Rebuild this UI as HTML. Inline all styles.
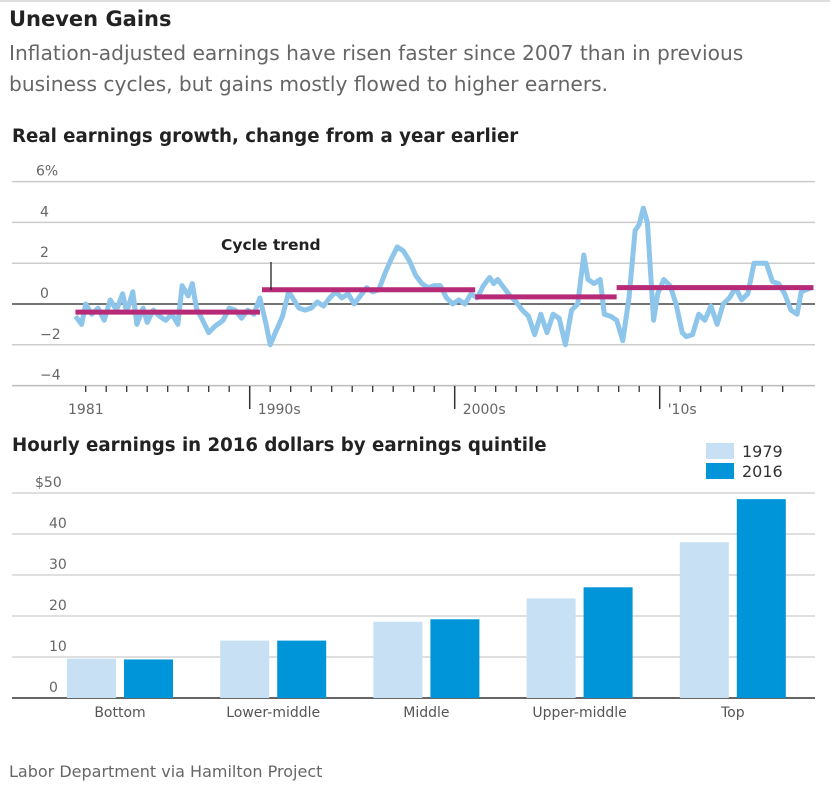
<!DOCTYPE html>
<html><head><meta charset="utf-8"><style>
body{margin:0;background:#fff;font-family:"DejaVu Sans","Liberation Sans",sans-serif;}
svg text{font-family:"DejaVu Sans","Liberation Sans",sans-serif;}
</style></head><body>
<svg width="830" height="787">
<line x1="0" y1="1" x2="830" y2="1" stroke="#bbb"/>
<text x="9" y="26" font-size="21" font-weight="bold" fill="#222">Uneven Gains</text>
<text x="9" y="60" font-size="20.2" fill="#666">Inflation-adjusted earnings have risen faster since 2007 than in previous</text>
<text x="9" y="91" font-size="20.2" fill="#666">business cycles, but gains mostly flowed to higher earners.</text>
<text x="12" y="142" font-size="18.2" font-weight="bold" fill="#222">Real earnings growth, change from a year earlier</text>
<g id="line"></g>
<text x="12" y="451" font-size="18.2" font-weight="bold" fill="#222">Hourly earnings in 2016 dollars by earnings quintile</text>
<g id="bars"></g>
<text x="9" y="777" font-size="16" fill="#666">Labor Department via Hamilton Project</text>
</svg>
<script>
const years=[1981.5,1981.8,1982.0,1982.3,1982.6,1982.9,1983.2,1983.5,1983.8,1984.0,1984.3,1984.5,1984.8,1985.0,1985.3,1985.6,1985.9,1986.2,1986.5,1986.7,1987.0,1987.2,1987.4,1987.7,1988.0,1988.3,1988.7,1989.0,1989.3,1989.6,1989.9,1990.2,1990.5,1990.8,1991.0,1991.3,1991.6,1991.9,1992.1,1992.4,1992.7,1993.0,1993.3,1993.6,1993.9,1994.2,1994.5,1994.8,1995.1,1995.4,1995.7,1996.0,1996.3,1996.6,1996.9,1997.2,1997.5,1997.8,1998.1,1998.4,1998.7,1999.0,1999.3,1999.6,1999.9,2000.2,2000.5,2000.8,2001.1,2001.4,2001.7,2001.9,2002.1,2002.4,2002.7,2003.0,2003.3,2003.6,2003.9,2004.2,2004.5,2004.8,2005.1,2005.4,2005.7,2006.0,2006.3,2006.5,2006.8,2007.1,2007.3,2007.6,2007.9,2008.2,2008.5,2008.8,2009.0,2009.2,2009.4,2009.7,2009.9,2010.2,2010.5,2010.8,2011.1,2011.3,2011.6,2011.9,2012.2,2012.5,2012.8,2013.1,2013.4,2013.7,2014.0,2014.3,2014.6,2014.9,2015.2,2015.5,2015.8,2016.1,2016.4,2016.7,2016.9,2017.4];
const growth=[-0.6,-1.0,0.0,-0.5,-0.2,-0.8,0.2,-0.3,0.5,-0.4,0.6,-1.0,-0.2,-0.9,-0.3,-0.6,-0.8,-0.5,-1.0,0.9,0.4,1.0,-0.2,-0.8,-1.4,-1.1,-0.8,-0.2,-0.3,-0.7,-0.3,-0.5,0.3,-1.0,-2.0,-1.3,-0.6,0.6,0.3,-0.2,-0.3,-0.2,0.1,-0.1,0.3,0.6,0.3,0.5,0.0,0.4,0.8,0.6,0.7,1.5,2.2,2.8,2.6,2.1,1.4,1.0,0.8,0.9,0.9,0.3,0.0,0.2,0.0,0.5,0.3,0.9,1.3,1.0,1.2,0.8,0.4,0.1,-0.3,-0.6,-1.5,-0.5,-1.4,-0.5,-0.7,-2.0,-0.3,0.0,2.4,1.2,1.0,1.2,-0.5,-0.6,-0.8,-1.8,0.3,3.6,3.9,4.7,4.0,-0.8,0.5,1.2,0.9,0.0,-1.4,-1.6,-1.5,-0.5,-0.8,-0.1,-1.0,0.0,0.3,0.8,0.2,0.5,2.0,2.0,2.0,1.1,1.0,0.5,-0.3,-0.5,0.6,0.8];
const trendStart=[1981.5,1990.6,2001.0,2007.9];
const trendEnd=[1990.5,2001.0,2007.9,2017.5];
const trendVal=[-0.4,0.7,0.35,0.8];
const yTicks=[6,4,2,0,-2,-4];
const yTickLabels=["6%","4","2","0","\u22122","\u22124"];
const tickYears=[1982,1983,1984,1985,1986,1987,1988,1989,1990,1991,1992,1993,1994,1995,1996,1997,1998,1999,2000,2001,2002,2003,2004,2005,2006,2007,2008,2009,2010,2011,2012,2013,2014,2015,2016];
const majorYears=[1990,2000,2010];
const xLabels=["1981","1990s","2000s","'10s"];
const xLabelYears=[1982,1990,2000,2010];

const categories=["Bottom","Lower-middle","Middle","Upper-middle","Top"];
const v1979=[9.6,14.0,18.6,24.3,38.0];
const v2016=[9.4,14.0,19.2,27.0,48.5];
const barTicks=[50,40,30,20,10,0];
const barTickLabels=["$50","40","30","20","10","0"];

const NS="http://www.w3.org/2000/svg";
function mk(tag,attrs,parent){const e=document.createElementNS(NS,tag);for(const k in attrs)e.setAttribute(k,attrs[k]);parent.appendChild(e);return e;}
const X=y=>85.7+(y-1982)*20.5;
const Y=v=>304-v*20.4;
const L=document.getElementById('line');
yTicks.forEach((t,i)=>{
 const ln=mk('line',{x1:12,x2:815,y1:Y(t),y2:Y(t),stroke:t===0?'#222':(t===-4?'#bbb':'#ccc'),'stroke-width':t===0?1.3:1.5},L);
 
 
 const tx=mk('text',{x:t===6?36:40,y:Y(t)-6,'font-size':14,fill:'#666'},L);tx.textContent=yTickLabels[i];
 
 
});
tickYears.forEach(y=>{
 const maj=majorYears.includes(y);
 const t=mk('line',{x1:X(y),x2:X(y),y1:386,y2:maj?409:392,stroke:'#333','stroke-width':maj?1.5:1.3},L);
 
 
});
xLabels.forEach((s,i)=>{
 const t=mk('text',{x:i===0?68:X(xLabelYears[i])+8,y:414,'font-size':14,fill:'#666'},L);t.textContent=s;
 
 
});
const pts=years.map((y,i)=>X(y).toFixed(1)+','+Y(growth[i]).toFixed(1)).join(' ');
const pl=mk('polyline',{points:pts,fill:'none',stroke:'#8ec5ea','stroke-width':5,'stroke-linejoin':'round'},L);


trendVal.forEach((v,i)=>{
 const t=mk('line',{x1:X(trendStart[i]),x2:X(trendEnd[i]),y1:Y(v),y2:Y(v),stroke:'#b72a77','stroke-width':5},L);
 
 
});
const lead=mk('line',{x1:271,x2:271,y1:262,y2:290,stroke:'#222','stroke-width':1.3},L);


const ann=mk('text',{x:221,y:250,'font-size':15.5,'font-weight':'bold',fill:'#222'},L);ann.textContent='Cycle trend';



const B=document.getElementById('bars');
const BY=v=>698-v*4.1;
barTicks.forEach((t,i)=>{
 const ln=mk('line',{x1:12,x2:815,y1:BY(t),y2:BY(t),stroke:t===0?'#333':'#ccc','stroke-width':t===0?1.5:1.3},B);
 
 
 const tx=mk('text',{x:t===50?35:49,y:BY(t)-6,'font-size':14,fill:'#666'},B);tx.textContent=barTickLabels[i];
 
 
});
categories.forEach((c,i)=>{
 const gx=67+i*153.2;
 const b1=mk('rect',{x:gx,y:BY(v1979[i]),width:49,height:v1979[i]*4.1,fill:'#c8e0f4'},B);
 
 
 const b2=mk('rect',{x:gx+57,y:BY(v2016[i]),width:49,height:v2016[i]*4.1,fill:'#0095d9'},B);
 
 
 const t=mk('text',{x:gx+53,y:717,'font-size':14,fill:'#555','text-anchor':'middle'},B);t.textContent=c;
 
 
});
[['1979','#c8e0f4',443],['2016','#0095d9',463]].forEach(([s,c,y])=>{
 const r=mk('rect',{x:706,y:y,width:28,height:16,fill:c},B);
 
 
 const t=mk('text',{x:742,y:y+14,'font-size':16,fill:'#333'},B);t.textContent=s;
 
 
});
</script>
</body></html>
